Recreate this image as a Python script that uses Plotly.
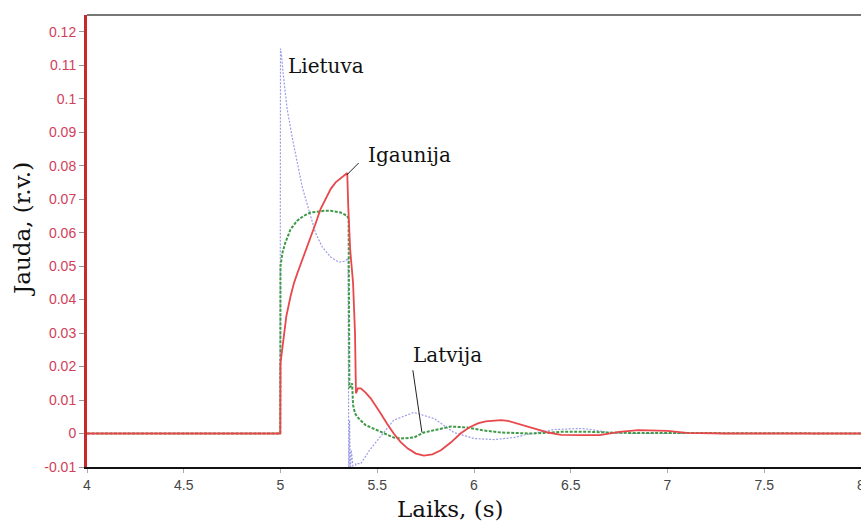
import plotly.graph_objects as go

# ---- data ----
lietuva_x = [4.0, 4.998, 5.0, 5.005, 5.017, 5.035, 5.06, 5.087, 5.112, 5.147, 5.181, 5.216, 5.259,
             5.302, 5.337, 5.349, 5.353, 5.357, 5.361, 5.366, 5.372, 5.378, 5.39, 5.415, 5.46, 5.503,
             5.585, 5.689, 5.793, 5.896, 6.0, 6.104, 6.207, 6.295, 6.415, 6.554, 6.606, 6.694, 6.8, 8.0]
lietuva_y = [0, 0, 0.115, 0.113, 0.1057, 0.0967, 0.0886, 0.0808, 0.0737, 0.0667, 0.0599, 0.0557, 0.0527,
             0.0512, 0.0515, 0.0524, -0.012, 0.004, -0.012, -0.005, -0.009, -0.012, -0.009, -0.009, -0.005, -0.002,
             0.004, 0.0063, 0.0045, 0.0003, -0.0015, -0.0018, -0.0012, 0.0, 0.0012, 0.0015, 0.0012, 0.0003, 0.0, 0.0]

igaunija_x = [4.0, 4.999, 5.0, 5.008, 5.016, 5.03, 5.052, 5.07, 5.088, 5.12, 5.155, 5.18, 5.207, 5.235,
              5.259, 5.285, 5.311, 5.33, 5.345, 5.35, 5.36, 5.375, 5.385, 5.39, 5.40, 5.415, 5.44,
              5.466, 5.49, 5.518, 5.55, 5.585, 5.62, 5.658, 5.70, 5.741, 5.785, 5.829, 5.88, 5.93, 5.975,
              6.02, 6.06, 6.104, 6.14, 6.175, 6.207, 6.25, 6.295, 6.34, 6.383, 6.45, 6.55, 6.65, 6.75,
              6.85, 7.0, 7.1, 7.3, 8.0]
igaunija_y = [0, 0, 0.021, 0.025, 0.029, 0.035, 0.041, 0.045, 0.048, 0.053, 0.058, 0.0625, 0.067, 0.0705,
              0.073, 0.075, 0.0763, 0.0772, 0.0778, 0.068, 0.055, 0.045, 0.03, 0.012, 0.0135, 0.0135, 0.0122,
              0.0105, 0.0085, 0.006, 0.003, 0.0, -0.0025, -0.0045, -0.006, -0.0066, -0.0062, -0.005, -0.0027,
              0.0, 0.0018, 0.003, 0.0036, 0.0039, 0.004, 0.0038, 0.0033, 0.0026, 0.0018, 0.001, 0.0003,
              -0.0004, -0.0005, -0.0005, 0.0005, 0.001, 0.0008, 0.0002, 0.0, 0.0]

latvija_x = [4.0, 4.999, 5.0, 5.01, 5.025, 5.052, 5.085, 5.119, 5.155, 5.192, 5.225, 5.259, 5.311,
             5.345, 5.352, 5.356, 5.362, 5.37, 5.375, 5.385, 5.399, 5.415, 5.44, 5.503, 5.585, 5.622,
             5.689, 5.741, 5.829, 5.88, 5.964, 6.05, 6.14, 6.3, 6.45, 6.6, 6.75, 6.9, 7.1, 8.0]
latvija_y = [0, 0, 0.05, 0.054, 0.057, 0.061, 0.0635, 0.065, 0.066, 0.0663, 0.0665, 0.0665, 0.066,
             0.065, 0.064, 0.0138, 0.014, 0.015, 0.0085, 0.006, 0.0048, 0.0039, 0.0025, 0.0009, -0.0012, -0.0015,
             -0.0012, 0.0003, 0.0015, 0.0021, 0.0018, 0.0009, 0.0003, 0.0, 0.0005, 0.0005, 0.0002, 0.0002, 0.0, 0.0]

y_ticks = [-0.01, 0, 0.01, 0.02, 0.03, 0.04, 0.05, 0.06, 0.07, 0.08, 0.09, 0.1, 0.11, 0.12]
y_tick_labels = ["-0.01", "0", "0.01", "0.02", "0.03", "0.04", "0.05", "0.06", "0.07", "0.08",
                 "0.09", "0.1", "0.11", "0.12"]
x_ticks = [4, 4.5, 5, 5.5, 6, 6.5, 7, 7.5, 8]
x_tick_labels = ["4", "4.5", "5", "5.5", "6", "6.5", "7", "7.5", "8"]

SERIF = "DejaVu Serif, Liberation Serif, serif"
SANS = "Liberation Sans, Arial, sans-serif"

fig = go.Figure()
fig.add_trace(go.Scatter(x=lietuva_x, y=lietuva_y, mode="lines", name="Lietuva",
                         line=dict(color="#9c9ce8", width=1.2, dash="2px,1.5px")))
fig.add_trace(go.Scatter(x=latvija_x, y=latvija_y, mode="lines", name="Latvija",
                         line=dict(color="#3f9a48", width=2, dash="3px,1.5px")))
fig.add_trace(go.Scatter(x=igaunija_x, y=igaunija_y, mode="lines", name="Igaunija",
                         line=dict(color="#e8474c", width=1.8)))

fig.update_layout(
    width=861, height=522,
    margin=dict(l=87, r=0, t=15, b=55),
    paper_bgcolor="white", plot_bgcolor="white",
    showlegend=False,
    xaxis=dict(range=[4, 8], tickvals=x_ticks, ticktext=x_tick_labels, automargin=False,
               showgrid=False, zeroline=False, showline=True, linecolor="#111", linewidth=2,
               ticks="outside", ticklen=4, tickcolor="#aaa", ticklabeloverflow="allow",
               tickfont=dict(family=SANS, size=14, color="#444")),
    yaxis=dict(range=[-0.01, 0.125], tickvals=y_ticks, ticktext=y_tick_labels, automargin=False,
               showgrid=False, zeroline=False, showline=True, linecolor="#c8282e", linewidth=3,
               ticks="outside", ticklen=5, tickcolor="#999",
               tickfont=dict(family=SANS, size=14, color="#d2405a")),
)

# top border
fig.add_shape(type="line", xref="paper", yref="paper", x0=0, x1=1, y0=1, y1=1,
              line=dict(color="#777", width=2))

# pointer lines for labels
fig.add_shape(type="line", xref="x", yref="y", x0=5.404, y0=0.0808, x1=5.342, y1=0.0772,
              line=dict(color="#222", width=1))
fig.add_shape(type="line", xref="x", yref="y", x0=5.684, y0=0.0189, x1=5.731, y1=0.0003,
              line=dict(color="#222", width=1))

label_font = dict(family=SERIF, size=20, color="#111")
fig.add_annotation(x=5.026, y=0.1099, text="Lietuva", showarrow=False, xanchor="left",
                   yanchor="middle", font=label_font)
fig.add_annotation(x=5.44, y=0.0832, text="Igaunija", showarrow=False, xanchor="left",
                   yanchor="middle", font=label_font)
fig.add_annotation(x=5.674, y=0.0234, text="Latvija", showarrow=False, xanchor="left",
                   yanchor="middle", font=label_font)

# axis titles
fig.add_annotation(xref="paper", yref="paper", x=0, y=0.5, xshift=-65, yshift=12,
                   text="Jauda, (r.v.)", textangle=-90, showarrow=False,
                   xanchor="center", yanchor="middle",
                   font=dict(family=SERIF, size=23, color="#111"))
fig.add_annotation(xref="paper", yref="paper", x=(450 - 87) / 774, y=0, yshift=-42,
                   text="Laiks, (s)", showarrow=False, xanchor="center", yanchor="middle",
                   font=dict(family=SERIF, size=23, color="#111"))

fig.write_html("out.html")
